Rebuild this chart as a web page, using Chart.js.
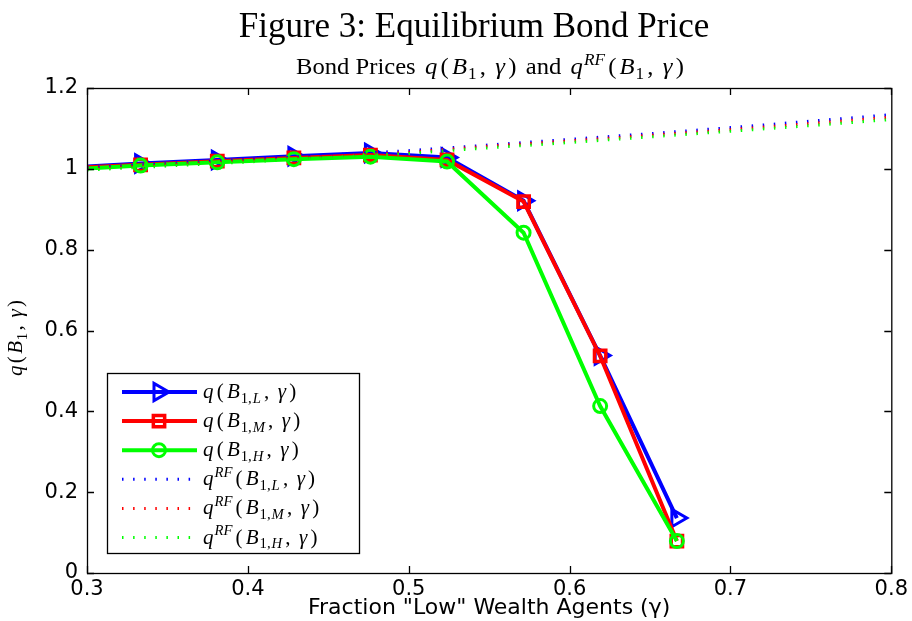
<!DOCTYPE html>
<html>
<head>
<meta charset="utf-8">
<script src="https://cdn.jsdelivr.net/npm/chart.js@4.4.1/dist/chart.umd.min.js"></script>
<style>
    html, body { margin: 0; padding: 0; background: #fff; }
    #wrap { position: relative; width: 912px; height: 621px; }
</style>
</head>
<body>
<div id="wrap"><canvas id="bond-chart" width="912" height="621"></canvas></div>
<script>
// grid of gamma values where the model was solved (first one sits left of the axis)
const gammaGrid = [0.2857, 0.3333, 0.3810, 0.4286, 0.4762, 0.5238, 0.5714, 0.6190, 0.6667];
const qLow  = [1.003, 1.013, 1.022, 1.031, 1.039, 1.028, 0.921, 0.538, 0.136];
const qMid  = [1.001, 1.010, 1.019, 1.027, 1.034, 1.022, 0.919, 0.537, 0.079];
const qHigh = [0.998, 1.008, 1.016, 1.024, 1.030, 1.018, 0.842, 0.413, 0.079];

// risk-free benchmark
const gammaRF = [0.30, 0.35, 0.40, 0.45, 0.50, 0.55, 0.60, 0.65, 0.70, 0.75, 0.80];
const qRFLow  = [1.003, 1.013, 1.023, 1.034, 1.045, 1.059, 1.073, 1.087, 1.102, 1.118, 1.134];
const qRFMid  = [1.000, 1.010, 1.020, 1.031, 1.041, 1.056, 1.069, 1.083, 1.097, 1.112, 1.128];
const qRFHigh = [0.997, 1.007, 1.017, 1.028, 1.038, 1.052, 1.065, 1.079, 1.093, 1.107, 1.122];

const xTickValues = [0.3, 0.4, 0.5, 0.6, 0.7, 0.8];
const yTickValues = [0, 0.2, 0.4, 0.6, 0.8, 1, 1.2];

const SERIF = '"Liberation Serif", "Times New Roman", serif';
const SANS = '"DejaVu Sans", sans-serif';

function toPoints(xs, ys) {
    return xs.map((x, i) => ({ x: x, y: ys[i] }));
}

// label pieces: [text, style]  r = roman, i = italic, *sub / *sup = small shifted
function qLabel(sub, rf) {
    const parts = [["q", "i"]];
    if (rf) parts.push(["RF", "isup"]);
    parts.push(["(", "r"], ["B", "i"], ["1,", "rsub"], [sub, "isub"], [", ", "r"], ["γ", "i"], [")", "r"]);
    return parts;
}

function isSmall(st) {
    return st.indexOf("sub") > 0 || st.indexOf("sup") > 0;
}

function fontFor(style, size) {
    const s = isSmall(style) ? size * 0.7 : size;
    return (style[0] === "i" ? "italic " : "") + s + "px " + SERIF;
}

// extra math spacing after piece k (less in front of a sub/superscript)
function gapAfter(parts, k, gap) {
    if (k >= parts.length - 1) return 0;
    if (isSmall(parts[k + 1][1])) return gap * 0.3;
    return gap;
}

// draws mixed roman / italic / sub / sup text
function drawRich(ctx, parts, x, y, size, align, gap = 0, stretch = 1) {
    let total = 0;
    parts.forEach(([t, st], k) => {
        ctx.font = fontFor(st, size);
        total += ctx.measureText(t).width + gapAfter(parts, k, gap);
    });
    total *= stretch;
    ctx.save();
    ctx.translate(align === "center" ? x - total / 2 : x, y);
    ctx.scale(stretch, 1);
    ctx.textAlign = "left";
    ctx.textBaseline = "alphabetic";
    let cx = 0;
    parts.forEach(([t, st], k) => {
        ctx.font = fontFor(st, size);
        let dy = 0;
        if (st.indexOf("sub") > 0) dy = size * 0.22;
        if (st.indexOf("sup") > 0) dy = -size * 0.4;
        ctx.fillText(t, cx, dy);
        cx += ctx.measureText(t).width + gapAfter(parts, k, gap);
    });
    ctx.restore();
}

function drawMarker(ctx, style, x, y, r) {
    ctx.beginPath();
    if (style === "triangle") {
        ctx.moveTo(x + r, y);
        ctx.lineTo(x - r / 2, y - r * 0.866);
        ctx.lineTo(x - r / 2, y + r * 0.866);
        ctx.closePath();
    } else if (style === "rect") {
        const h = r * Math.SQRT1_2;
        ctx.rect(x - h, y - h, 2 * h, 2 * h);
    } else {
        ctx.arc(x, y, r, 0, Math.PI * 2);
    }
    ctx.stroke();
}

const matlabFrame = {
    id: "matlabFrame",
    afterDraw(chart) {
        const { ctx, chartArea: a, scales } = chart;
        ctx.save();

        // axes box with inward ticks on every side
        ctx.strokeStyle = "#000";
        ctx.lineWidth = 1.3;
        ctx.strokeRect(a.left + 0.5, a.top + 0.5, a.right - a.left, a.bottom - a.top);
        const tl = 7;
        ctx.beginPath();
        scales.x.ticks.forEach(t => {
            const px = Math.round(scales.x.getPixelForValue(t.value)) + 0.5;
            ctx.moveTo(px, a.bottom); ctx.lineTo(px, a.bottom - tl);
            ctx.moveTo(px, a.top); ctx.lineTo(px, a.top + tl);
        });
        scales.y.ticks.forEach(t => {
            const py = Math.round(scales.y.getPixelForValue(t.value)) + 0.5;
            ctx.moveTo(a.left, py); ctx.lineTo(a.left + tl, py);
            ctx.moveTo(a.right, py); ctx.lineTo(a.right - tl, py);
        });
        ctx.stroke();

        // figure caption and axes title
        ctx.fillStyle = "#000";
        drawRich(ctx, [["Figure 3: Equilibrium Bond Price", "r"]], 474, 37, 35, "center");
        const sub = [["Bond Prices ", "r"], ["q", "i"], ["(", "r"], ["B", "i"], ["1", "rsub"], [", ", "r"], ["γ", "i"],
            [")", "r"], [" and ", "r"], ["q", "i"], ["RF", "isup"], ["(", "r"], ["B", "i"], ["1", "rsub"], [", ", "r"], ["γ", "i"], [")", "r"]];
        drawRich(ctx, sub, 490, 74, 23, "center", 3, 1.07);

        // y axis label
        ctx.save();
        ctx.translate(22, 338);
        ctx.rotate(-Math.PI / 2);
        drawRich(ctx, [["q", "i"], ["(", "r"], ["B", "i"], ["1", "rsub"], [", ", "r"], ["γ", "i"], [")", "r"]], 0, 0, 21, "center", 2.4);
        ctx.restore();

        // legend inside the axes, lower left
        const lx = 107, ly = 373, lw = 252, lh = 180;
        ctx.fillStyle = "#fff";
        ctx.fillRect(lx, ly, lw, lh);
        ctx.strokeStyle = "#000";
        ctx.lineWidth = 1.3;
        ctx.strokeRect(lx + 0.5, ly + 0.5, lw, lh);
        chart.data.datasets.forEach((ds, i) => {
            const ry = 392 + i * 29.1;
            ctx.save();
            ctx.strokeStyle = ds.borderColor;
            ctx.lineWidth = ds.borderWidth;
            ctx.lineCap = "butt";
            ctx.setLineDash(ds.borderDash || []);
            ctx.beginPath();
            ctx.moveTo(122, ry); ctx.lineTo(197, ry);
            ctx.stroke();
            ctx.setLineDash([]);
            if (ds.pointRadius > 0) {
                ctx.lineWidth = ds.pointBorderWidth;
                drawMarker(ctx, ds.pointStyle, 159, ry, ds.pointRadius);
            }
            ctx.restore();
            ctx.fillStyle = "#000";
            drawRich(ctx, ds.richLabel, 203, ry + 6, 21, "left", 3.2);
        });

        ctx.restore();
    }
};

const solid = {
    borderWidth: 4,
    pointBorderWidth: 3,
    pointBackgroundColor: "rgba(0,0,0,0)",
    tension: 0,
    fill: false,
    clip: 0,
};
const dotted = {
    borderWidth: 3,
    borderDash: [1.5, 9.6],
    borderCapStyle: "butt",
    pointRadius: 0,
    tension: 0,
    fill: false,
    clip: 0,
};

const datasets = [
    Object.assign({}, solid, {
        label: "q(B1,L, γ)", richLabel: qLabel("L", false),
        data: toPoints(gammaGrid, qLow), borderColor: "#0000ff", pointBorderColor: "#0000ff",
        pointStyle: "triangle", pointRotation: 90, pointRadius: 10, order: 6,
    }),
    Object.assign({}, solid, {
        label: "q(B1,M, γ)", richLabel: qLabel("M", false),
        data: toPoints(gammaGrid, qMid), borderColor: "#ff0000", pointBorderColor: "#ff0000",
        pointStyle: "rect", pointRadius: 8, pointBorderWidth: 3.5, order: 5,
    }),
    Object.assign({}, solid, {
        label: "q(B1,H, γ)", richLabel: qLabel("H", false),
        data: toPoints(gammaGrid, qHigh), borderColor: "#00ff00", pointBorderColor: "#00ff00",
        pointStyle: "circle", pointRadius: 6.5, order: 4,
    }),
    Object.assign({}, dotted, {
        label: "qRF(B1,L, γ)", richLabel: qLabel("L", true),
        data: toPoints(gammaRF, qRFLow), borderColor: "#0000ff", order: 3,
    }),
    Object.assign({}, dotted, {
        label: "qRF(B1,M, γ)", richLabel: qLabel("M", true),
        data: toPoints(gammaRF, qRFMid), borderColor: "#ff0000", order: 2,
    }),
    Object.assign({}, dotted, {
        label: "qRF(B1,H, γ)", richLabel: qLabel("H", true),
        data: toPoints(gammaRF, qRFHigh), borderColor: "#00ff00", order: 1,
    }),
];

new Chart(document.getElementById("bond-chart").getContext("2d"), {
    type: "line",
    data: { datasets },
    options: {
        responsive: false,
        devicePixelRatio: 1,
        animation: false,
        events: [],
        layout: { padding: { top: 88, right: 20, left: 0, bottom: 0 } },
        plugins: {
            legend: { display: false },
            tooltip: { enabled: false },
        },
        scales: {
            x: {
                type: "linear",
                min: 0.3,
                max: 0.8,
                afterBuildTicks: (scale) => { scale.ticks = xTickValues.map(v => ({ value: v })); },
                afterFit: (scale) => { scale.height = 48; },
                ticks: {
                    color: "#000",
                    font: { family: SANS, size: 21 },
                    padding: 4,
                    maxRotation: 0,
                    callback: (v) => String(v),
                },
                grid: { display: false, drawTicks: false },
                border: { display: false },
                title: {
                    display: true,
                    text: 'Fraction "Low" Wealth Agents (γ)',
                    color: "#000",
                    font: { family: SANS, size: 22 },
                    padding: { top: 0, bottom: 0 },
                },
            },
            y: {
                type: "linear",
                min: 0,
                max: 1.2,
                afterBuildTicks: (scale) => { scale.ticks = yTickValues.map(v => ({ value: v })); },
                afterFit: (scale) => { scale.width = 87; },
                ticks: {
                    color: "#000",
                    font: { family: SANS, size: 21 },
                    padding: 9,
                    callback: (v) => String(v),
                },
                grid: { display: false, drawTicks: false },
                border: { display: false },
            },
        },
    },
    plugins: [matlabFrame],
});
</script>
</body>
</html>
